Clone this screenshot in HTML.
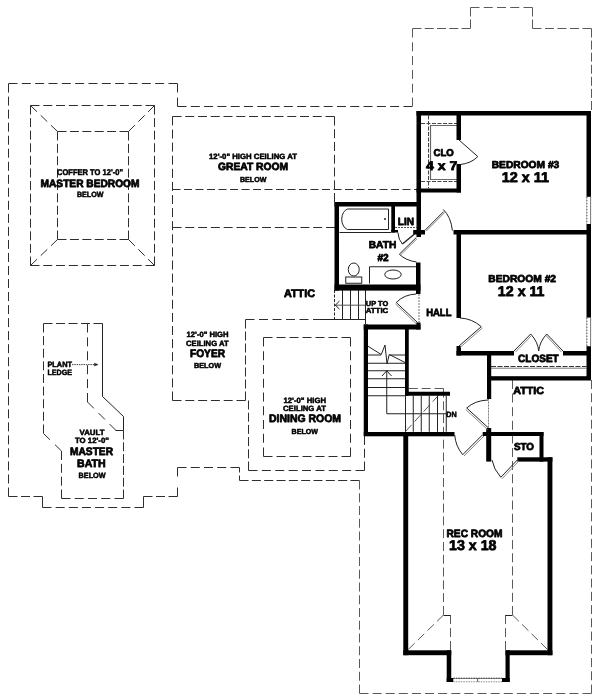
<!DOCTYPE html><html><head><meta charset="utf-8"><title>Floor plan</title><style>html,body{margin:0;padding:0;background:#fff}svg{display:block;filter:grayscale(100%)}text{text-rendering:geometricPrecision;font-family:"Liberation Sans",sans-serif;font-weight:bold;fill:#000;stroke:#000;stroke-width:0.75px;stroke-linejoin:round}text.s{stroke-width:0.5px}</style></head><body>
<svg width="600" height="700" viewBox="0 0 600 700">
<rect width="600" height="700" fill="#fff"/>
<g fill="none" stroke="#2e2e2e" stroke-width="1" stroke-dasharray="9 4">
<path d="M8.5,83.5L177.5,83.5" stroke-dasharray="9.00 4.33"/><path d="M177.5,83.5L177.5,106.5" stroke-dasharray="9.00 5.00"/><path d="M177.5,106.5L412.5,106.5" stroke-dasharray="9.00 4.29"/>
<path d="M359.5,480.5L239.5,480.5" stroke-dasharray="9.00 3.33"/><path d="M239.5,480.5L239.5,467.5" stroke-dasharray="5.00 3"/><path d="M239.5,467.5L177.5,467.5" stroke-dasharray="9.00 4.25"/><path d="M177.5,467.5L177.5,496.5" stroke-dasharray="9.00 11.00"/><path d="M177.5,496.5L143.5,496.5" stroke-dasharray="9.00 3.50"/><path d="M143.5,496.5L143.5,507.5" stroke-dasharray="none"/><path d="M143.5,507.5L42.5,507.5" stroke-dasharray="9.00 4.14"/><path d="M42.5,507.5L42.5,496.5" stroke-dasharray="none"/><path d="M42.5,496.5L8.5,496.5" stroke-dasharray="9.00 3.50"/><path d="M8.5,496.5L8.5,83.5" stroke-dasharray="9.00 4.03"/>
<path d="M30.5,105.5L154.5,105.5" stroke-dasharray="9.00 3.78"/><path d="M154.5,105.5L154.5,265.5" stroke-dasharray="9.00 3.58"/><path d="M154.5,265.5L30.5,265.5" stroke-dasharray="9.00 3.78"/><path d="M30.5,265.5L30.5,105.5" stroke-dasharray="9.00 3.58"/>
<path d="M57.5,131.5L128.5,131.5" stroke-dasharray="9.00 3.40"/><path d="M128.5,131.5L128.5,239.5" stroke-dasharray="9.00 3.38"/><path d="M128.5,239.5L57.5,239.5" stroke-dasharray="9.00 3.40"/><path d="M57.5,239.5L57.5,131.5" stroke-dasharray="9.00 3.38"/>
<path d="M30.5,105.5L57.5,131.5" stroke-dasharray="9.00 5.24"/><path d="M154.5,105.5L128.5,131.5" stroke-dasharray="9.00 4.88"/><path d="M30.5,265.5L57.5,239.5" stroke-dasharray="9.00 5.24"/><path d="M154.5,265.5L128.5,239.5" stroke-dasharray="9.00 4.88"/>
<path d="M172.5,400.5L172.5,116.5" stroke-dasharray="9.00 4.10"/><path d="M172.5,116.5L334.5,116.5" stroke-dasharray="9.00 3.75"/><path d="M334.5,116.5L334.5,202.0" stroke-dasharray="9.00 3.75"/>
<path d="M172.5,227.5L335.0,227.5" stroke-dasharray="9.00 3.79"/>
<path d="M172.5,400.5L245.5,400.5" stroke-dasharray="9.00 3.80"/><path d="M245.5,400.5L245.5,319.5" stroke-dasharray="9.00 3.00"/><path d="M245.5,319.5L322.0,319.5" stroke-dasharray="9.00 4.50"/>
<path d="M248.5,400.5L248.5,470.5" stroke-dasharray="9.00 3.20"/><path d="M248.5,470.5L364.5,470.5" stroke-dasharray="9.00 4.38"/><path d="M364.5,470.5L364.5,436.0" stroke-dasharray="9.00 3.75"/>
<path d="M263.5,337.5L350.5,337.5" stroke-dasharray="9.00 4.00"/><path d="M350.5,337.5L350.5,456.5" stroke-dasharray="9.00 4.75"/><path d="M350.5,456.5L263.5,456.5" stroke-dasharray="9.00 4.00"/><path d="M263.5,456.5L263.5,337.5" stroke-dasharray="9.00 4.75"/>
<path d="M102.5,323.5L43.5,323.5" stroke-dasharray="9.00 3.50"/><path d="M43.5,323.5L43.5,433.5" stroke-dasharray="9.00 3.62"/><path d="M43.5,433.5L61.5,451.0" stroke-dasharray="9.00 7.10"/><path d="M61.5,451.0L61.5,498.5" stroke-dasharray="9.00 3.83"/><path d="M61.5,498.5L123.5,498.5" stroke-dasharray="9.00 4.25"/><path d="M123.5,498.5L123.5,430.5" stroke-dasharray="9.00 2.80"/>
<path d="M87.5,323.5L87.5,402.0" stroke-dasharray="9.00 4.90"/><path d="M87.5,402.0L116.0,430.5" stroke-dasharray="9.00 6.65"/>
</g>
<g fill="none" stroke="#5a5a5a" stroke-width="1" stroke-dasharray="9 4">
<path d="M412.5,106.5L412.5,28.5" stroke-dasharray="9.00 4.80"/><path d="M412.5,28.5L470.5,28.5" stroke-dasharray="9.00 3.25"/><path d="M470.5,28.5L470.5,7.5" stroke-dasharray="9.00 3.00"/><path d="M470.5,7.5L532.5,7.5" stroke-dasharray="9.00 4.25"/><path d="M532.5,7.5L532.5,28.5" stroke-dasharray="9.00 3.00"/><path d="M532.5,28.5L591.5,28.5" stroke-dasharray="9.00 3.50"/><path d="M591.5,28.5L591.5,110.0" stroke-dasharray="9.00 3.08"/>
<path d="M591.5,380.0L591.5,693.5" stroke-dasharray="9.00 4.24"/><path d="M591.5,693.5L359.5,693.5" stroke-dasharray="9.00 4.12"/><path d="M359.5,693.5L359.5,480.5" stroke-dasharray="9.00 3.75"/>
<path d="M512.5,380.0L512.5,457.0" stroke-dasharray="9.00 4.60"/>
<path d="M408.75,388.5L443.5,388.5" stroke-dasharray="9.00 3.88"/><path d="M443.5,388.5L443.5,615.0" stroke-dasharray="9.00 3.79"/>
<path d="M443.5,615.0L408.2,649.5" stroke-dasharray="9.00 4.45"/>
<path d="M450.5,615.0L450.5,650.0" stroke-dasharray="9.00 4.00"/>
<path d="M512.5,461.0L512.5,615.0" stroke-dasharray="9.00 4.18"/>
<path d="M512.5,615.0L547.5,649.5" stroke-dasharray="9.00 4.38"/>
<path d="M505.5,615.0L505.5,650.0" stroke-dasharray="9.00 4.00"/>
<path d="M405.5,431.5L438.75,395.0" stroke-dasharray="9.00 4.46"/>
</g>
<path d="M172.5,189.5H417" fill="none" stroke="#2e2e2e" stroke-width="1" stroke-dasharray="8 3.5"/>
<g fill="none" stroke="#222" stroke-width="1">
<path d="M102.5,323.5V396.5L123.5,416.5V430.5H115.5"/>
<path d="M443.5,615.5H450.5M512.5,615.5H505.5"/>
</g>
<g fill="none" stroke="#222" stroke-width="1">
<!-- closet 4x7 shelf -->
<path d="M457,125.5H430.5V179.5H457" stroke="#666" stroke-width="1.2"/>
<path d="M428.5,115.5V188.5M421,123.5H457M421,181.5H457" stroke-dasharray="4 1.5" stroke="#444"/>
<!-- tub -->
<path d="M339.5,232.5H391"/>
<path d="M347.5,209H388.5V229.5H347.5Q345,228.5 343.5,226Q341.7,223 341.7,219.25Q341.7,215.5 343.5,212.5Q345,210 347.5,209Z"/>
<circle cx="385" cy="219" r="0.6" fill="#222"/>
<!-- LIN shelf -->
<path d="M395,227.5H416.5" stroke="#555" stroke-dasharray="2 1"/>
<!-- toilet -->
<rect x="345.75" y="277" width="16" height="6.25"/>
<ellipse cx="353.75" cy="269.5" rx="5.5" ry="6.5"/>
<!-- vanity -->
<path d="M369.5,283.5V266.75H416"/>
<ellipse cx="393" cy="274.5" rx="8.25" ry="4.5"/>
<!-- attic stair -->
<path d="M342.5,290V319.5M350.5,290V319.5M358.5,290V319.5M365.5,290V324"/><path d="M334.5,290V319.5" stroke-dasharray="3 1.5"/>
<path d="M320,319.5H365.5"/>
<path d="M334.5,305.2H365.5" stroke="#555"/><path d="M339.5,301L335.3,305.2L339.5,309.2"/>
<!-- main stair treads -->
<path d="M368,363.25H405M368,370.75H405M368,378.75H405M368,387.5H405M368,395.75H405"/>
<path d="M368,355H381M389.5,355H405"/>
<path d="M368,346.25L381.25,354.5L385,345L387,363.75L389.25,354.5L405,362.5"/>
<path d="M413.25,395.75V431.75M421.25,395.75V431.75M429.25,395.75V431.75M437.5,395.75V431.75M446.25,395.75V431.75M405.5,395.75V431.75"/>
<path d="M386.75,370.75V413.75H446.25M382,376L386.75,370.75L391.5,376"/>
<!-- closet shelf bedroom 2 -->
<path d="M491,368.2H586.5" stroke="#777"/>
<path d="M491,366.5H586.5" stroke-dasharray="5 1.5" stroke="#333"/>
<!-- thresholds -->
<path d="M419,294V322.5M488.5,398.5V428" stroke="#777" stroke-dasharray="2 1"/>
<!-- plant ledge arrow -->
<path d="M72,364.6H97" stroke="#444" stroke-dasharray="1.5 0.8"/><path d="M94.5,363.2L98,364.6L94.5,366Z" fill="#222" stroke-width="0.5"/>
</g>

<g fill="#000"><rect x="416.5" y="111" width="174.5" height="4.5"/><rect x="416.5" y="111" width="4.5" height="126"/><rect x="413.2" y="230" width="11.8" height="4.5"/><rect x="586.5" y="111" width="4.5" height="269"/><rect x="456.5" y="115" width="4.5" height="25"/><rect x="456.5" y="164" width="4.5" height="28.5"/><rect x="416.5" y="188.5" width="44.5" height="4.0"/><rect x="334.5" y="202" width="86.5" height="4.5"/><rect x="334.5" y="202" width="4.5" height="88.6"/><rect x="334.5" y="284.5" width="86.0" height="6.1"/><rect x="416" y="262.5" width="4.5" height="31.5"/><rect x="391.3" y="206" width="3.7" height="26.5"/><rect x="391.3" y="230" width="6.7" height="2.5"/><rect x="453.5" y="230" width="137.5" height="4.5"/><rect x="456.5" y="230" width="4.5" height="88"/><rect x="456.5" y="346" width="4.5" height="9.5"/><rect x="456.5" y="351" width="57.5" height="4.5"/><rect x="563" y="351" width="28" height="4.5"/><rect x="487" y="351" width="4.2" height="48"/><rect x="487" y="376.2" width="104" height="4.3"/><rect x="363.75" y="324.5" width="56.75" height="5.0"/><rect x="416.25" y="322.5" width="4.25" height="7.0"/><rect x="363.75" y="324.5" width="4.25" height="111.25"/><rect x="405" y="329" width="3.75" height="66.75"/><rect x="405" y="391.75" width="45" height="4.0"/><rect x="363.75" y="432" width="90.75" height="4.3"/><rect x="403.3" y="435" width="4.9" height="220.2"/><rect x="403.3" y="650.3" width="47.95" height="4.9"/><rect x="446.7" y="650.3" width="4.55" height="31.7"/><rect x="446.7" y="678" width="63.0" height="4"/><rect x="505.5" y="650.3" width="4.2" height="31.7"/><rect x="505.5" y="650.3" width="46.9" height="4.9"/><rect x="547.5" y="457.3" width="4.9" height="197.9"/><rect x="517.3" y="457.3" width="35.1" height="4.3"/><rect x="539.5" y="432" width="4.0" height="29.6"/><rect x="482.7" y="432" width="60.8" height="4"/><rect x="486.2" y="428" width="5.0" height="33.6"/></g>
<!-- windows -->
<g fill="#fff" stroke="none">
<rect x="586.3" y="196.8" width="4.9" height="27.2"/>
<rect x="586.3" y="317.6" width="4.9" height="28.6"/>
<rect x="453.3" y="678.4" width="48.7" height="3.8"/>
</g>
<g fill="none" stroke="#777" stroke-width="1">
<path d="M590.6,196.8V224M590.6,317.6V346.2"/>
<path d="M586.9,196.8V224M586.9,317.6V346.2" stroke="#555" stroke-dasharray="1.5 1.5"/>
<path d="M453.3,678.2H502" stroke="#333" stroke-dasharray="1.5 1"/>
<path d="M453.3,681.8H502" stroke="#888" stroke-dasharray="1.5 1"/>
<path d="M477.7,678.2V681.8" stroke="#555"/>
</g>
<!-- doors -->
<g fill="none" stroke="#222" stroke-width="1">
<!-- closet 4x7 door -->
<path d="M459,140L477.8,156.6Q471,163.5 460,164.5"/>
<!-- bed3 door from hall -->
<path d="M425,230.3L443.6,211.6"/><path d="M426,231.3L444.6,212.6" stroke="#888"/><path d="M443.3,209.5Q451,217 452.4,230.5"/>
<!-- bath door -->
<path d="M416.3,237.5L399.5,254"/><path d="M417.3,238.5L400.5,255" stroke="#888"/><path d="M399.3,254.3Q406,260.5 416.5,262"/>
<!-- LIN door -->
<path d="M414.5,234L402.4,244" stroke-width="1.4"/><path d="M402.4,244Q398.5,240 397.9,232.5"/>
<!-- attic door -->
<path d="M417.5,322.5L396.25,302.5M396.25,302.5Q404,294.5 416.25,294"/><path d="M416.5,324L395.5,304" stroke="#888"/>
<!-- bed2 door -->
<path d="M459,346L481.3,326.7M481.3,326.7Q472,318.5 460,318"/><path d="M460,347.5L482.3,328" stroke="#888"/>
<!-- closet bifold -->
<path d="M514,351L530.7,334M530.7,334Q538,342 538.7,351M563,351L546.7,334M546.7,334Q539.5,342 538.7,351"/><path d="M515.5,352L532,335M561.5,352L545.5,335" stroke="#888"/>
<!-- attic/rec upper door -->
<path d="M488.5,428L466.7,408M466.7,408Q475,400.5 488,400"/><path d="M487.5,429.5L465.7,409.5" stroke="#888"/>
<!-- rec door -->
<path d="M482.7,434.7L462.7,454.7M462.7,454.7Q455.5,446 454.7,435"/><path d="M484,436L464,456" stroke="#888"/>
<!-- STO door -->
<path d="M517.3,460L500.8,477.3M500.8,477.3Q493.5,469 492,460"/><path d="M518.5,461.5L502,478.8" stroke="#888"/>
</g>

<g text-anchor="middle">
<text class="s" x="90" y="175" font-size="8.36" textLength="66" lengthAdjust="spacingAndGlyphs">COFFER TO 12'-0"</text>
<text x="90" y="186.6" font-size="10.68" textLength="99" lengthAdjust="spacingAndGlyphs">MASTER BEDROOM</text>
<text class="s" x="90.2" y="197.4" font-size="7.55" textLength="26.5" lengthAdjust="spacingAndGlyphs">BELOW</text>

<text class="s" x="253" y="159" font-size="7.66" textLength="88" lengthAdjust="spacingAndGlyphs">12'-0" HIGH CEILING AT</text>
<text x="253" y="170.4" font-size="10.47" textLength="70" lengthAdjust="spacingAndGlyphs">GREAT ROOM</text>
<text class="s" x="253.2" y="181.5" font-size="7.35" textLength="26.4" lengthAdjust="spacingAndGlyphs">BELOW</text>

<text x="299.5" y="297" font-size="10.9" textLength="31" lengthAdjust="spacingAndGlyphs">ATTIC</text>

<text class="s" x="207.6" y="337.4" font-size="7.66" textLength="42" lengthAdjust="spacingAndGlyphs">12'-0" HIGH</text>
<text class="s" x="207.3" y="345.8" font-size="7.66" textLength="42.6" lengthAdjust="spacingAndGlyphs">CEILING AT</text>
<text x="207.5" y="357.2" font-size="10.88" textLength="35" lengthAdjust="spacingAndGlyphs">FOYER</text>
<text class="s" x="207.5" y="368.3" font-size="7.35" textLength="27" lengthAdjust="spacingAndGlyphs">BELOW</text>

<text class="s" x="304.75" y="402.8" font-size="7.66" textLength="42.5" lengthAdjust="spacingAndGlyphs">12'-0" HIGH</text>
<text class="s" x="304.5" y="411" font-size="7.66" textLength="43" lengthAdjust="spacingAndGlyphs">CEILING AT</text>
<text x="305" y="422.3" font-size="10.88" textLength="72" lengthAdjust="spacingAndGlyphs">DINING ROOM</text>
<text class="s" x="304.8" y="433.7" font-size="7.35" textLength="26.4" lengthAdjust="spacingAndGlyphs">BELOW</text>

<text class="s" x="59.7" y="367.4" font-size="7.66" textLength="24.6" lengthAdjust="spacingAndGlyphs">PLANT</text>
<text class="s" x="59.7" y="374.7" font-size="7.66" textLength="24.6" lengthAdjust="spacingAndGlyphs">LEDGE</text>

<text class="s" x="92" y="434.8" font-size="7.66" textLength="25" lengthAdjust="spacingAndGlyphs">VAULT</text>
<text class="s" x="92" y="443.2" font-size="7.66" textLength="34" lengthAdjust="spacingAndGlyphs">TO 12'-0"</text>
<text x="91.5" y="455.2" font-size="10.88" textLength="43" lengthAdjust="spacingAndGlyphs">MASTER</text>
<text x="91.3" y="467.2" font-size="10.88" textLength="28.6" lengthAdjust="spacingAndGlyphs">BATH</text>
<text class="s" x="92.1" y="477.7" font-size="7.55" textLength="27" lengthAdjust="spacingAndGlyphs">BELOW</text>

<text x="443.7" y="156" font-size="9.87" textLength="20.3" lengthAdjust="spacingAndGlyphs">CLO</text>
<text x="441.7" y="170" font-size="12.59" textLength="31.3" lengthAdjust="spacingAndGlyphs">4 x 7</text>
<text x="525.5" y="168.3" font-size="10.07" textLength="67.6" lengthAdjust="spacingAndGlyphs">BEDROOM #3</text>
<text x="525.3" y="181.7" font-size="14.10" textLength="47.3" lengthAdjust="spacingAndGlyphs">12 x 11</text>

<text x="405.9" y="225" font-size="10.5" textLength="16.2" lengthAdjust="spacingAndGlyphs">LIN</text>
<text x="382.5" y="248" font-size="10.07" textLength="27.5" lengthAdjust="spacingAndGlyphs">BATH</text>
<text x="383.1" y="261.25" font-size="10.07" textLength="11.25" lengthAdjust="spacingAndGlyphs">#2</text>
<text class="s" x="377" y="305.8" font-size="7.22" textLength="22.5" lengthAdjust="spacingAndGlyphs">UP TO</text>
<text class="s" x="377" y="313.1" font-size="7.22" textLength="22.5" lengthAdjust="spacingAndGlyphs">ATTIC</text>
<text x="438.8" y="316" font-size="10.5" textLength="25.3" lengthAdjust="spacingAndGlyphs">HALL</text>
<text x="522.2" y="282.3" font-size="10.07" textLength="67.7" lengthAdjust="spacingAndGlyphs">BEDROOM #2</text>
<text x="521.2" y="296" font-size="14.10" textLength="46.7" lengthAdjust="spacingAndGlyphs">12 x 11</text>
<text x="538.4" y="361.9" font-size="10.57" textLength="40.7" lengthAdjust="spacingAndGlyphs">CLOSET</text>
<text x="528.7" y="394" font-size="10.37" textLength="30.7" lengthAdjust="spacingAndGlyphs">ATTIC</text>
<text x="524" y="450" font-size="10.07" textLength="20.1" lengthAdjust="spacingAndGlyphs">STO</text>
<text class="s" x="451.4" y="417.4" font-size="7.60" textLength="10.4" lengthAdjust="spacingAndGlyphs">DN</text>
<text x="474.5" y="537" font-size="10.57" textLength="56" lengthAdjust="spacingAndGlyphs">REC ROOM</text>
<text x="472.75" y="550" font-size="14.10" textLength="47.5" lengthAdjust="spacingAndGlyphs">13 x 18</text>
</g>

</svg></body></html>
